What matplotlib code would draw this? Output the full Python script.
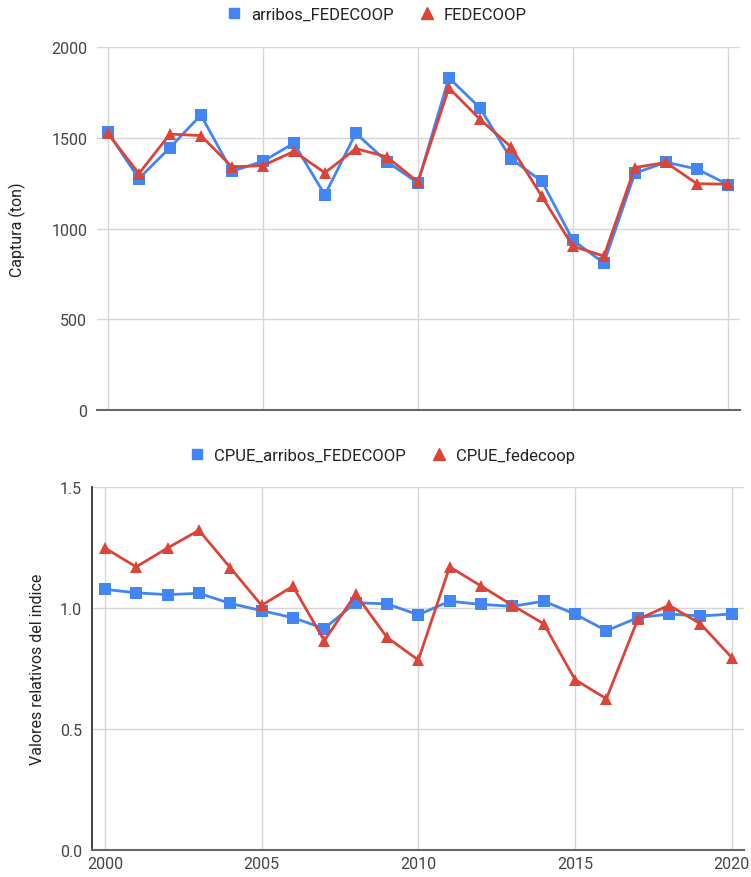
import matplotlib
matplotlib.use('Agg')
import matplotlib.pyplot as plt
from matplotlib.lines import Line2D

plt.rcParams['font.family'] = ['Roboto', 'DejaVu Sans']

# Data
years = list(range(2000, 2021))

arribos_fedecoop = [1530, 1275, 1445, 1625, 1315, 1370, 1470, 1185, 1525, 1368, 1251,
                    1830, 1665, 1385, 1260, 935, 810, 1305, 1365, 1328, 1242]
fedecoop = [1525, 1302, 1520, 1512, 1340, 1346, 1425, 1307, 1440, 1395, 1257,
            1775, 1602, 1450, 1177, 902, 848, 1336, 1364, 1247, 1244]

cpue_arribos = [1.077, 1.063, 1.055, 1.061, 1.019, 0.989, 0.960, 0.915, 1.022, 1.017, 0.972,
                1.028, 1.015, 1.007, 1.028, 0.975, 0.906, 0.960, 0.975, 0.967, 0.975]
cpue_fedecoop = [1.248, 1.170, 1.248, 1.321, 1.167, 1.011, 1.090, 0.865, 1.057, 0.879, 0.785,
                 1.170, 1.091, 1.011, 0.935, 0.704, 0.625, 0.953, 1.011, 0.935, 0.795]

top_yticks = [0, 500, 1000, 1500, 2000]
bot_yticks = [0.0, 0.5, 1.0, 1.5]
bot_ytick_labels = ['0.0', '0.5', '1.0', '1.5']
xticks = [2000, 2005, 2010, 2015, 2020]

BLUE = '#4285F4'
RED = '#DB4437'
GRID = '#d6d6d6'
TXT = '#444444'
FS = 11.5

W, H = 751, 878
fig = plt.figure(figsize=(W / 100, H / 100), dpi=100)

ax1 = fig.add_axes([97 / W, 1 - 411 / H, (740 - 97) / W, (411 - 48) / H])
ax2 = fig.add_axes([92 / W, 1 - 851 / H, (744 - 92) / W, (851 - 488) / H])

line_kw = dict(linewidth=2.0, markeredgewidth=0)

# top chart
ax1.plot(years, arribos_fedecoop, color=BLUE, marker='s', markersize=8, **line_kw)
ax1.plot(years, fedecoop, color=RED, marker='^', markersize=9, **line_kw)
ax1.set_xlim(1999.65, 2020.39)
ax1.set_ylim(0, 2000)
ax1.set_yticks(top_yticks)
ax1.set_yticklabels([str(v) for v in top_yticks])
ax1.set_xticks(xticks)
ax1.set_xticklabels([])
ax1.set_ylabel('Captura (ton)', color='#222222', fontsize=FS)
ax1.yaxis.set_label_coords(-0.110, 0.5)
for s in ['top', 'right', 'left']:
    ax1.spines[s].set_visible(False)
ax1.spines['bottom'].set_color('#666666')
ax1.spines['bottom'].set_linewidth(1.5)
ax1.tick_params(length=0, labelsize=FS, labelcolor=TXT, pad=7)
ax1.grid(True, color=GRID, linewidth=1)
ax1.set_axisbelow(True)

# bottom chart
ax2.plot(years, cpue_arribos, color=BLUE, marker='s', markersize=8, **line_kw)
ax2.plot(years, cpue_fedecoop, color=RED, marker='^', markersize=9, **line_kw)
ax2.set_xlim(1999.59, 2020.39)
ax2.set_ylim(0, 1.5)
ax2.set_yticks(bot_yticks)
ax2.set_yticklabels(bot_ytick_labels)
ax2.set_xticks(xticks)
ax2.set_xticklabels([str(v) for v in xticks])
ax2.set_ylabel('Valores relativos del indice', color='#222222', fontsize=FS)
ax2.yaxis.set_label_coords(-0.072, 0.5)
ax2.spines['top'].set_visible(False)
ax2.spines['right'].set_visible(False)
ax2.spines['left'].set_color('#333333')
ax2.spines['left'].set_linewidth(1.3)
ax2.spines['bottom'].set_color('#666666')
ax2.spines['bottom'].set_linewidth(1.5)
ax2.tick_params(length=0, labelsize=FS, labelcolor=TXT)
ax2.tick_params(axis='y', pad=7)
ax2.tick_params(axis='x', pad=4)
ax2.grid(True, color=GRID, linewidth=1)
ax2.set_axisbelow(True)

# legends
def handles(labels):
    return [Line2D([], [], color=BLUE, marker='s', linestyle='none', markersize=7.5, label=labels[0]),
            Line2D([], [], color=RED, marker='^', linestyle='none', markersize=8.5, label=labels[1])]

leg_kw = dict(loc='center', ncol=2, frameon=False, fontsize=12, handlelength=1.0,
              handletextpad=0.5, columnspacing=1.5, labelcolor='#222222')
fig.legend(handles=handles(['arribos_FEDECOOP', 'FEDECOOP']),
           bbox_to_anchor=(376 / W, 1 - 15 / H), **leg_kw)
fig.legend(handles=handles(['CPUE_arribos_FEDECOOP', 'CPUE_fedecoop']),
           bbox_to_anchor=(382 / W, 1 - 456 / H), **leg_kw)

fig.savefig('out.png', dpi=100)
